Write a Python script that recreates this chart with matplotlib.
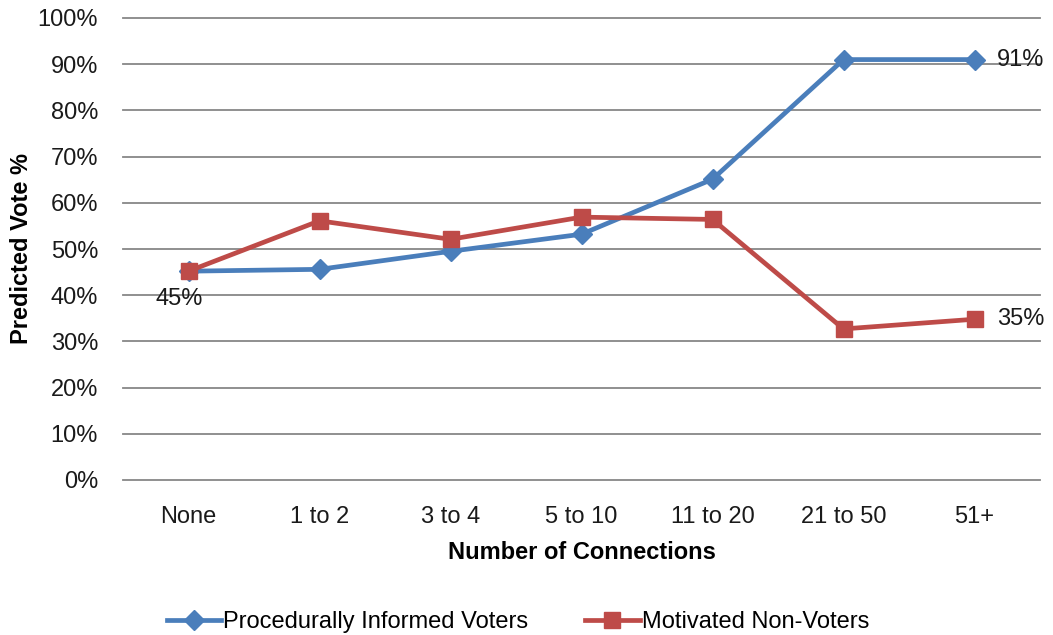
import matplotlib
matplotlib.use('Agg')
from matplotlib import pyplot as plt
from matplotlib.ticker import PercentFormatter

plt.rcParams['font.family'] = ['Liberation Sans', 'DejaVu Sans']

# predicted vote share by number of connections
categories = ['None', '1 to 2', '3 to 4', '5 to 10', '11 to 20', '21 to 50', '51+']
informed = [45.2, 45.6, 49.5, 53.2, 65.1, 91.0, 91.0]
nonvoters = [45.2, 56.1, 52.1, 56.9, 56.4, 32.7, 34.8]

blue = '#4A7EBB'
red = '#BE4B48'
txt = '#1a1a1a'
fs = 17

fig = plt.figure(figsize=(10.53, 6.35), dpi=100)
ax = fig.add_axes([123/1053, 1-480/635, 917/1053, 462/635])

x = list(range(len(categories)))
ax.plot(x, informed, color=blue, lw=3.4, marker='D', ms=10,
        label='Procedurally Informed Voters', zorder=3)
ax.plot(x, nonvoters, color=red, lw=3.4, marker='s', ms=12,
        label='Motivated Non-Voters', zorder=4)

# value labels
ax.text(x[0] - 0.07, nonvoters[0] - 6, '%d%%' % round(nonvoters[0]), fontsize=fs,
        ha='center', va='center', color=txt)
ax.text(x[-1] + 0.17, informed[-1], '%d%%' % round(informed[-1]), fontsize=fs,
        ha='left', va='center', color=txt)
ax.text(x[-1] + 0.17, nonvoters[-1], '%d%%' % round(nonvoters[-1]), fontsize=fs,
        ha='left', va='center', color=txt)

ax.set_xlim(-0.5, len(categories) - 0.5)
ax.set_ylim(0, 100)
ax.set_yticks(range(0, 101, 10))
ax.yaxis.set_major_formatter(PercentFormatter(decimals=0))
ax.set_xticks(x)
ax.set_xticklabels(categories)
ax.tick_params(axis='both', length=0, labelsize=fs, colors=txt)
ax.tick_params(axis='x', pad=19)
ax.tick_params(axis='y', pad=18)

ax.grid(axis='y', color='#878787', lw=1.3)
for gl in ax.get_ygridlines():
    gl.set_clip_on(False)
ax.set_axisbelow(True)
for s in ax.spines.values():
    s.set_visible(False)

ax.set_ylabel('Predicted Vote %', fontsize=fs, fontweight='bold', labelpad=3)
ax.set_xlabel('Number of Connections', fontsize=fs, fontweight='bold', labelpad=9)

fig.legend(loc='lower center', bbox_to_anchor=(0.492, -0.03), ncol=2, frameon=False,
           fontsize=fs, handlelength=2.3, handletextpad=0.1, columnspacing=2.4)

fig.savefig('out.png', dpi=100)
